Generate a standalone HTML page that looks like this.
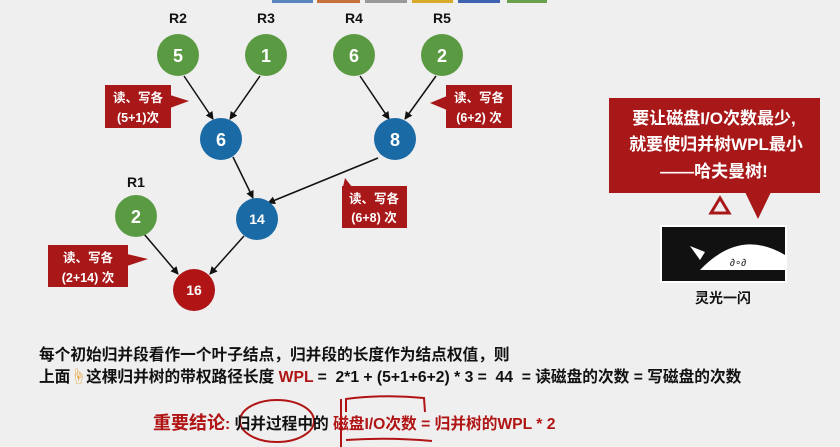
<!DOCTYPE html>
<html><head><meta charset="utf-8"><style>
body{margin:0;width:840px;height:447px;background:#efefef;overflow:hidden;position:relative;font-family:"Liberation Sans","Noto Sans CJK SC",sans-serif}
.t{position:absolute;white-space:nowrap;font-weight:bold;color:#111}
</style></head><body>
<svg width="840" height="447" style="position:absolute;left:0;top:0" font-family="Liberation Sans, Noto Sans CJK SC, sans-serif">
<defs><marker id="a" markerWidth="8" markerHeight="8" refX="7" refY="4" orient="auto" markerUnits="userSpaceOnUse"><path d="M0,0 L8,4 L0,8 Z" fill="#111"/></marker></defs>
<g>
<rect x="272" y="0" width="41" height="3" fill="#5b86bd"/>
<rect x="317" y="0" width="43" height="3" fill="#c8703c"/>
<rect x="365" y="0" width="42" height="3" fill="#999"/>
<rect x="412" y="0" width="41" height="3" fill="#d9a92a"/>
<rect x="458" y="0" width="42" height="3" fill="#3e63b0"/>
<rect x="507" y="0" width="40" height="3" fill="#6aa04a"/>
</g>
<g stroke="#111" stroke-width="1.5" marker-end="url(#a)">
<line x1="184" y1="76" x2="213" y2="119"/>
<line x1="260" y1="76" x2="230" y2="119"/>
<line x1="360" y1="76" x2="389" y2="119"/>
<line x1="436" y1="76" x2="405" y2="119"/>
<line x1="233" y1="157" x2="253" y2="198"/>
<line x1="378" y1="158" x2="268" y2="203"/>
<line x1="144" y1="234" x2="178" y2="274"/>
<line x1="244" y1="236" x2="210" y2="274"/>
</g>
<g font-weight="bold" font-size="14" text-anchor="middle" fill="#111">
<text x="178" y="23">R2</text><text x="266" y="23">R3</text><text x="354" y="23">R4</text><text x="442" y="23">R5</text><text x="136" y="187">R1</text>
</g>
<g fill="#5a9a42">
<circle cx="178" cy="55" r="21"/><circle cx="266" cy="55" r="21"/><circle cx="354" cy="55" r="21"/><circle cx="442" cy="55" r="21"/><circle cx="136" cy="216" r="21"/>
</g>
<g fill="#1a6aa6"><circle cx="221" cy="139" r="21"/><circle cx="395" cy="139" r="21"/><circle cx="257" cy="219" r="21"/></g>
<circle cx="194" cy="290" r="21" fill="#b01414"/>
<g font-weight="bold" fill="#fff" text-anchor="middle">
<g font-size="18"><text x="178" y="62">5</text><text x="266" y="62">1</text><text x="354" y="62">6</text><text x="442" y="62">2</text><text x="136" y="223">2</text><text x="221" y="146">6</text><text x="395" y="146">8</text></g>
<g font-size="14"><text x="257" y="224">14</text><text x="194" y="295">16</text></g>
</g>
<g fill="#a81818">
<rect x="105" y="85" width="66" height="43"/><path d="M170,95 L189,101 L170,108Z"/>
<rect x="446" y="85" width="66" height="43"/><path d="M447,96 L430,103 L447,110Z"/>
<rect x="342" y="186" width="65" height="42"/><path d="M343,187 L345,178 L352,187Z"/>
<rect x="48" y="245" width="80" height="42"/><path d="M127,254 L148,259 L127,266Z"/>
<rect x="609" y="98" width="211" height="95"/><path d="M745,192 L758,219 L771,192Z"/>
</g>
<path d="M720,198 L711,213 L729,213Z" fill="none" stroke="#a81818" stroke-width="3"/>
<g font-weight="bold" font-size="12.5" fill="#fff" text-anchor="middle">
<text x="138" y="102">读、写各</text><text x="138" y="122">(5+1)次</text>
<text x="479" y="102">读、写各</text><text x="479" y="122">(6+2) 次</text>
<text x="374" y="203">读、写各</text><text x="374" y="222">(6+8) 次</text>
<text x="88" y="262">读、写各</text><text x="88" y="282">(2+14) 次</text>
</g>
<g font-weight="bold" font-size="17" fill="#fff" text-anchor="middle">
<text x="714" y="124">要让磁盘I/O次数最少,</text>
<text x="716" y="150">就要使归并树WPL最小</text>
<text x="714" y="177">——哈夫曼树!</text>
</g>
<rect x="660" y="225" width="127" height="58" fill="#fff"/>
<rect x="662" y="227" width="123" height="54" fill="#111"/>
<path d="M700,270 Q740,228 785,255 L785,270 Z" fill="#fff"/>
<path d="M690,246 L705,252 L700,260 Z" fill="#fff"/>
<text x="730" y="266" font-size="10" fill="#111">∂∘∂</text>
<text x="723" y="303" font-weight="bold" font-size="14" fill="#111" text-anchor="middle">灵光一闪</text>
<g fill="none" stroke="#b01414" stroke-width="2">
<ellipse cx="277" cy="421" rx="37" ry="21"/>
<path d="M341,399 L341,447"/>
<path d="M346,412 L346,399 Q385,394 424,398 L425,412"/>
<path d="M346,440 Q390,437 432,441"/>
</g>
</svg>
<div class="t" style="left:39px;top:342px;font-size:15.7px">每个初始归并段看作一个叶子结点，归并段的长度作为结点权值，则</div>
<div class="t" style="left:39px;top:364px;font-size:15.7px">上面<span style="color:#e8a030">☝</span>这棵归并树的带权路径长度 <span style="color:#b01414">WPL</span> =&nbsp; 2*1 + (5+1+6+2) * 3 =&nbsp; 44&nbsp; = 读磁盘的次数 = 写磁盘的次数</div>
<div class="t" style="left:153px;top:409px;font-size:15.7px"><span style="color:#b01414;font-size:18px">重要结论</span><span style="color:#b01414">:</span> 归并过程中的 <span style="color:#b01414">磁盘I/O次数 = 归并树的WPL * 2</span></div>
</body></html>
